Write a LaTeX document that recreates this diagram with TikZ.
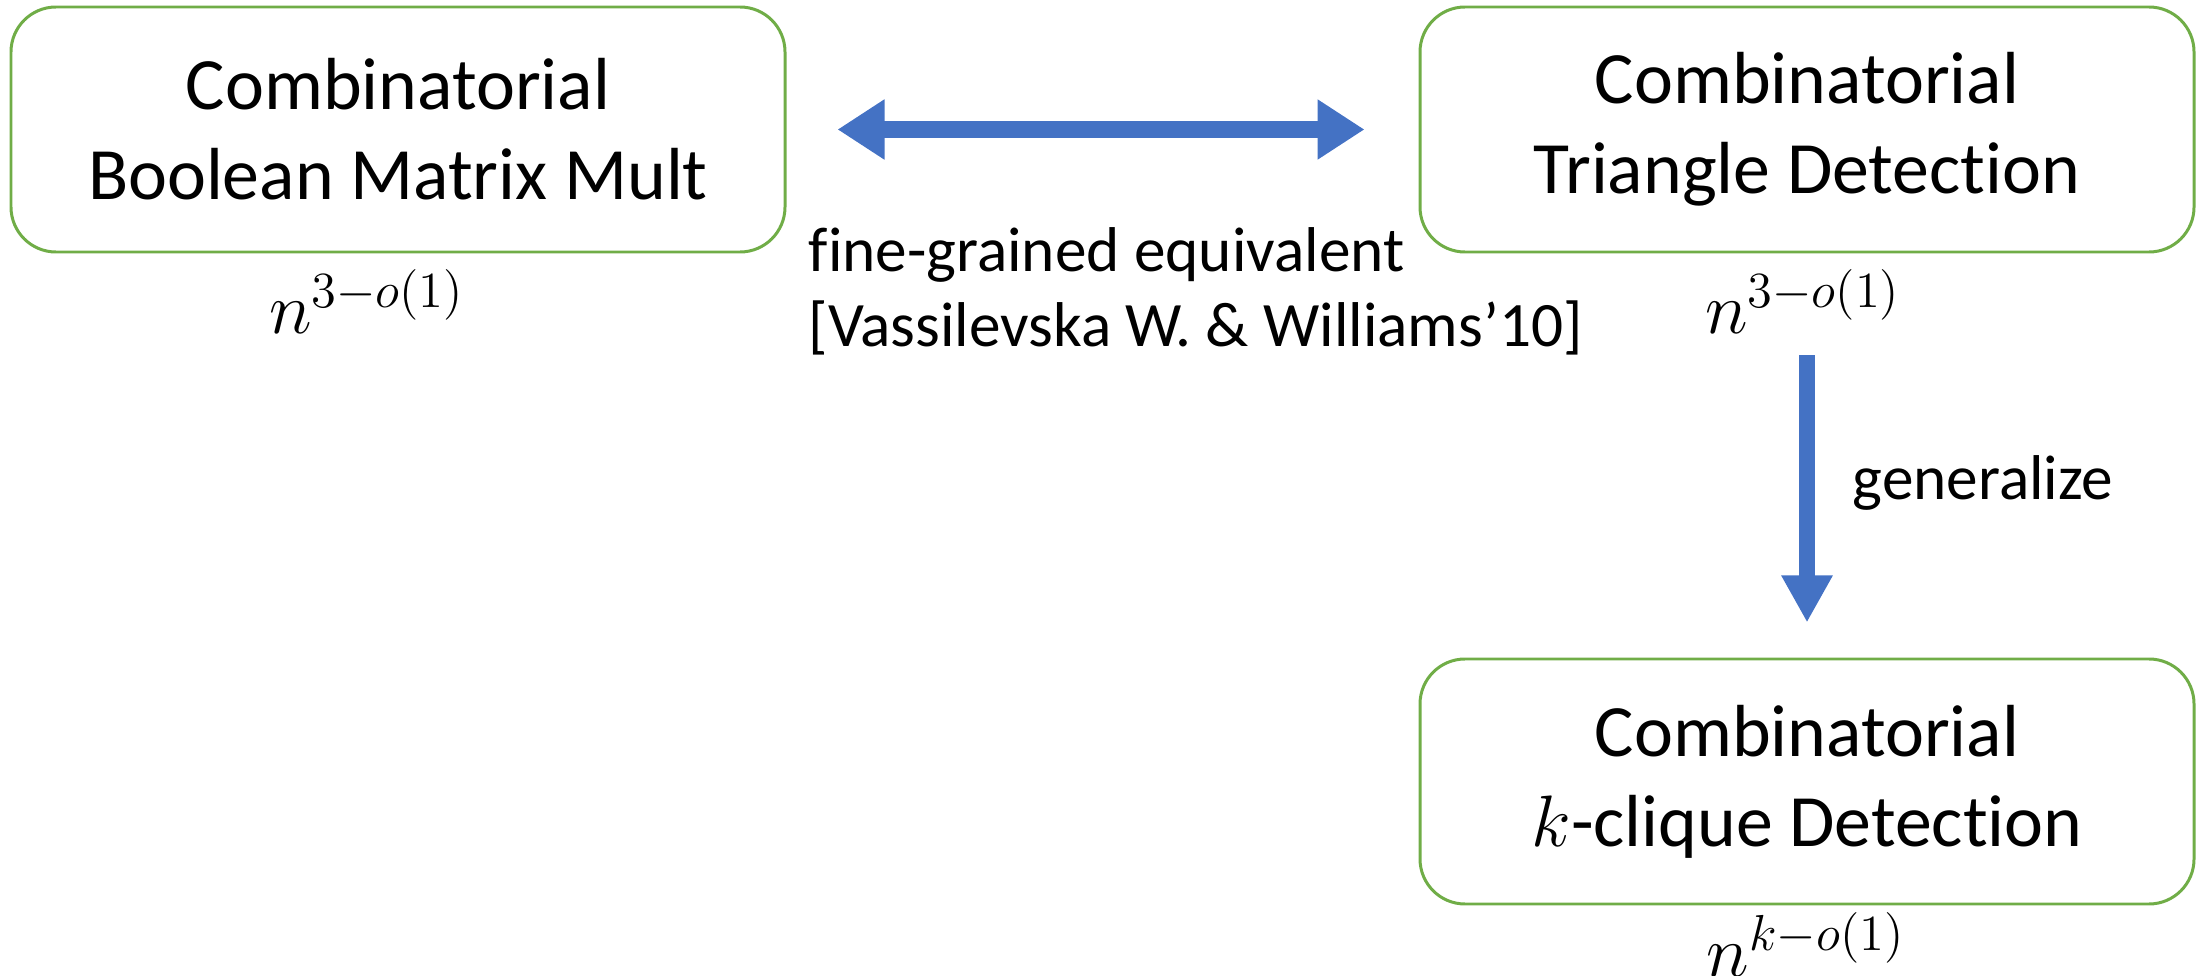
\documentclass[tikz,border=0pt]{standalone}
\usepackage{fontspec}
\setmainfont{Carlito}[Ligatures={TeX,NoCommon}]
\usetikzlibrary{arrows.meta,positioning}

\definecolor{boxgreen}{HTML}{70AD47}
\definecolor{arrowblue}{HTML}{4472C4}

\begin{document}
\begin{tikzpicture}[
    every node/.style={align=center},
    box/.style={rectangle, draw=boxgreen, line width=0.85pt, rounded corners=4.5mm, minimum width=77.4mm, minimum height=24.5mm, font=\fontsize{21}{25.6}\selectfont},
    cost/.style={inner sep=0pt, font=\fontsize{20}{23}\selectfont},
    note/.style={inner sep=0pt, align=left, font=\fontsize{18}{21.3}\selectfont},
    arrow/.style={-{Triangle[length=4.7mm, width=4.8mm]}, line width=4.6pt, draw=arrowblue},
    dblarrow/.style={arrow, {Triangle[length=4.7mm, width=5.7mm]}-{Triangle[length=4.7mm, width=5.7mm]}}
]
\useasboundingbox (0,0) rectangle (21.97,-9.76);

% the three problems
\node[box] (bmm) at (3.98,-1.295) {Combinatorial\\Boolean Matrix Mult};
\node[box] (tri) at (18.07,-1.295) {Combinatorial\\Triangle Detection};
\node[box, below=40.4mm of tri] (clique) {Combinatorial\\$k$-clique Detection};

% running times
\node[cost, below=1.5mm of bmm, xshift=-3.1mm] (bmmcost) {$n^{3-o(1)}$};
\node[cost, below=1.5mm of tri, xshift=-0.4mm] (tricost) {$n^{3-o(1)}$};
\node[cost, below=0.6mm of clique, xshift=-0.1mm] (cliquecost) {$n^{k-o(1)}$};

\node[note, anchor=north west] (equiv) at (8.08,-2.27) {fine-grained equivalent\\{[Vassilevska W. \& Williams'10]}};
\node[note, anchor=base west] (gen) at (18.52,-4.99) {generalize};

\draw[dblarrow, shorten <=5.1mm, shorten >=5.4mm] (bmm) -- (tri);
\draw[arrow, shorten <=10.2mm, shorten >=3.5mm] (tri) -- (clique);
\end{tikzpicture}
\end{document}
